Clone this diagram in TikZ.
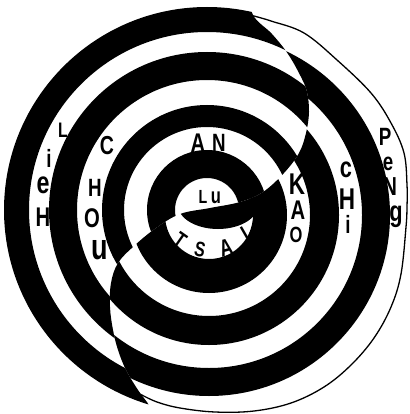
\documentclass[tikz,border=0pt]{standalone}
\usepackage{fontspec}
\newfontfamily\handfont[FakeStretch=0.75]{Liberation Sans}
% S-shaped seam between the two ring families
\newcommand{\seamcurve}{plot[smooth,tension=0.6] coordinates {(248,-12) (253,15)
  (272,34) (288,54) (301,77) (307,92) (309,112) (306,133) (299,153) (284,173)
  (263,192) (240,202) (210,208) (180,214) (156,228) (134,246) (118,263)
  (111,283) (110,307) (113,330) (118,350) (126,370) (138,390) (150,407)
  (158,428)}}
\begin{document}
\begin{tikzpicture}[x=1pt,y=-1pt,
    glyph/.style={font=\handfont\bfseries\fontsize{#1}{#1}\selectfont,inner sep=0pt},
    glyph/.default=26]
  \useasboundingbox (0,0) rectangle (409,414);
  \coordinate (left centre) at (207,210);
  \coordinate (right centre) at (209,215);

  % Left family: white disc in the middle
  \begin{scope}
    \clip \seamcurve -- (-20,440) -- (-20,-30) -- cycle;
    \fill[even odd rule] (left centre) circle (203pt) (left centre) circle (178pt);
    \fill[even odd rule] (left centre) circle (158pt) (left centre) circle (130pt);
    \fill[even odd rule] (left centre) circle (105pt) (left centre) circle (83pt);
    \fill[even odd rule] (left centre) circle (60pt) (left centre) circle (32pt);
  \end{scope}

  % Right family: black lens in the middle, thin outer line
  \begin{scope}
    \clip \seamcurve -- (440,440) -- (440,-30) -- cycle;
    \fill (218,205) ellipse (40pt and 24pt);
    \fill[even odd rule] (right centre) circle (78pt) (right centre) circle (44pt);
    \fill[even odd rule] (right centre) circle (130pt) (right centre) circle (101pt);
    \fill[even odd rule] (right centre) circle (181pt) (right centre) circle (153pt);
    \draw[line width=1.3pt] plot[smooth,tension=0.6] coordinates {(240,10) (251,15)
      (271,21) (304,33) (337,60) (371,93) (391,123) (404,153) (407,185)
      (407,207) (406,227) (401,274) (391,307) (374,338) (351,365) (324,387)
      (291,403) (254,411) (215,412) (180,408) (157,402) (140,394)};
  \end{scope}

  % LieH
  \node[glyph=21] (lieh-l) at (63,130) {L};
  \node[glyph=25] (lieh-i) at (49,158) {i};
  \node[glyph=31] (lieh-e) at (43,185) {e};
  \node[glyph=27] (lieh-h) at (43,217) {H};
  % CHOU
  \node[glyph=26] (chou-c) at (107,146) {C};
  \node[glyph=25] (chou-h) at (95,188) {H};
  \node[glyph=27] (chou-o) at (92,218) {O};
  \node[glyph=36] (chou-u) at (100,250) {u};
  % AN and Lu
  \node[glyph=27] (an-a) at (198,143) {A};
  \node[glyph=25] (an-n) at (219,143) {N};
  \node[glyph=19] (lu-l) at (203,197) {L};
  \node[glyph=22] (lu-u) at (216,198) {u};
  % TSAi
  \node[glyph=22,rotate=-35] (tsai-t) at (180,240) {T};
  \node[glyph=21,rotate=-12] (tsai-s) at (200,250) {S};
  \node[glyph=24,rotate=15] (tsai-a) at (226,248) {A};
  \node[glyph=24,rotate=30] (tsai-i) at (243,231) {i};
  % KAO
  \node[glyph=30] (kao-k) at (297,184) {K};
  \node[glyph=27] (kao-a) at (298,210) {A};
  \node[glyph=22] (kao-o) at (296,235) {O};
  % cHi
  \node[glyph=29] (chi-c) at (346,170) {c};
  \node[glyph=30] (chi-h) at (347,199) {H};
  \node[glyph=25] (chi-i) at (348,224) {i};
  % PeNg
  \node[glyph=25] (peng-p) at (385,137) {P};
  \node[glyph=25] (peng-e) at (388,164) {e};
  \node[glyph=26] (peng-n) at (390,187) {N};
  \node[glyph=29] (peng-g) at (396,217) {g};
\end{tikzpicture}
\end{document}
